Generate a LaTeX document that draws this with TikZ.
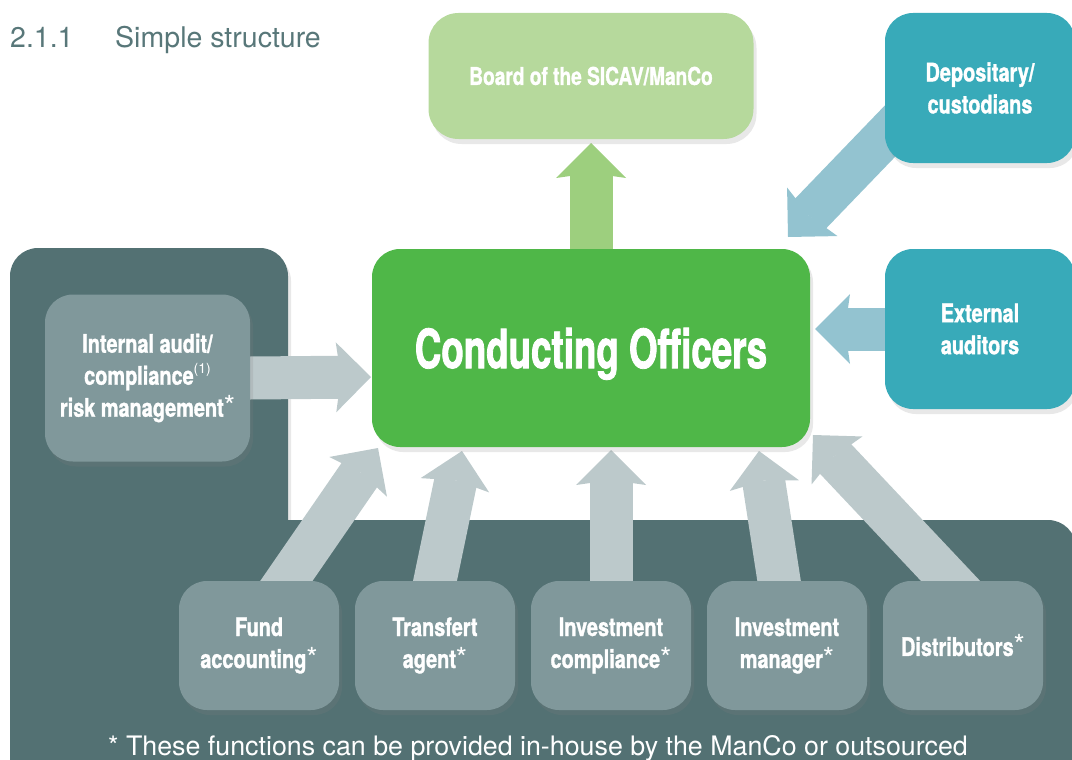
\documentclass[tikz,border=0pt]{standalone}
\usepackage{fontspec}
\setmainfont{TeX Gyre Heros}
\newfontfamily\condfont{TeX Gyre Heros}[FakeStretch=0.78,FakeBold=1.2]
\newfontfamily\tightfont{TeX Gyre Heros}[FakeStretch=0.68,FakeBold=1.5]
\usetikzlibrary{arrows.meta,shadows}
\definecolor{panelgray}{HTML}{537173}
\definecolor{unitgray}{HTML}{80989B}
\definecolor{arrowgray}{HTML}{BCC9CB}
\definecolor{coregreen}{HTML}{4FB748}
\definecolor{boardgreen}{HTML}{B6D99C}
\definecolor{upgreen}{HTML}{9DCF7E}
\definecolor{outerteal}{HTML}{38AAB9}
\definecolor{arrowblue}{HTML}{93C3D0}
\definecolor{titlegray}{HTML}{587779}
\newcommand{\fnstar}{{\rmfamily\mdseries\fontsize{29}{32}\selectfont *}}
\newcommand{\supnote}[1]{\raisebox{.45em}{\rmfamily\mdseries\fontsize{14}{14}\selectfont #1}}
\pgfdeclarelayer{panellayer}
\pgfdeclarelayer{arrowlayer}
\pgfsetlayers{panellayer,arrowlayer,main}
\tikzset{
  softshadow/.style={drop shadow={opacity=.18,shadow xshift=3pt,shadow yshift=-5pt}},
  boxtext/.style={text=white,align=center,inner sep=0pt,
    font=\condfont\bfseries\fontsize{25.5}{32}\selectfont},
  unitbox/.style={boxtext,fill=unitgray,rounded corners=28pt,softshadow,
    minimum width=160pt,minimum height=129pt},
  outerbox/.style={boxtext,fill=outerteal,rounded corners=28pt,softshadow,
    minimum width=190pt},
  boardbox/.style={boxtext,fill=boardgreen,rounded corners=30pt,softshadow,
    minimum width=325pt,minimum height=126pt,font=\condfont\bfseries\fontsize{24.5}{32}\selectfont},
  corebox/.style={boxtext,fill=coregreen,rounded corners=28pt,softshadow,
    minimum width=438pt,minimum height=198pt,text depth=0pt,
    font=\tightfont\bfseries\fontsize{54}{60}\selectfont},
  bigarrow/.style={line width=43pt,shorten <=-30pt,
    -{Stealth[length=35pt,width=70pt,inset=5pt,line width=0pt]}},
  greyarrow/.style={bigarrow,draw=arrowgray},
  bluearrow/.style={bigarrow,draw=arrowblue},
  greenarrow/.style={bigarrow,draw=upgreen}
}
\begin{document}
\begin{tikzpicture}[x=1pt,y=-1pt]
\useasboundingbox (0,0) rectangle (1072,760);
\clip (0,0) rectangle (1072,760);
% title
\node[anchor=base west,inner sep=0pt,text=titlegray,font=\fontsize{28.5}{30}\selectfont] (num) at (10,48) {2.1.1};
\node[anchor=base west,inner sep=0pt,text=titlegray,font=\fontsize{28.5}{30}\selectfont] (title) at (115,48) {Simple structure};
% boxes
\node[boardbox] (board) at (591,76) {Board of the SICAV/ManCo};
\node[outerbox,minimum height=150pt] (dep) at (980,88) {Depositary/\\custodians};
\node[outerbox,minimum height=160pt] (aud) at (980,329) {External\\auditors};
\node[corebox] (co) at (591,348) {Conducting Officers};
\node[unitbox,minimum width=205pt,minimum height=167pt] (ia) at (147.5,378) {Internal audit/\\compliance\supnote{(1)}\\risk management\fnstar};
\node[unitbox] (fund) at (259,645.5) {Fund\\accounting\fnstar};
\node[unitbox] (ta) at (435,645.5) {Transfert\\agent\fnstar};
\node[unitbox] (icomp) at (611,645.5) {Investment\\compliance\fnstar};
\node[unitbox] (iman) at (787,645.5) {Investment\\manager\fnstar};
\node[unitbox] (dist) at (963,645.5) {Distributors\fnstar};
\node[anchor=base,inner sep=0pt,text=white,font=\fontsize{26.8}{28}\selectfont] (note) at (538,755) {* These functions can be provided in-house by the ManCo or outsourced};
% tips
\coordinate (tipboard) at (591,143);
\coordinate (tipdep) at (788,237);
\coordinate (tipaud) at (815,329);
\coordinate (tipia) at (371,377);
\coordinate (tipfund) at (378,448);
\coordinate (tipta) at (462,451);
\coordinate (tipicomp) at (611,450);
\coordinate (tipiman) at (759,451);
\coordinate (tipdist) at (813,435);
\begin{pgfonlayer}{panellayer}
\fill[panelgray,rounded corners=28pt,softshadow] (10,248) rectangle (288,800) (10,520) rectangle (1076,800);
\end{pgfonlayer}
\begin{pgfonlayer}{arrowlayer}
\draw[greenarrow] (co.north) -- (tipboard);
\draw[bluearrow] (dep.207) -- (tipdep);
\draw[bluearrow] (aud.west) -- (tipaud);
\draw[greyarrow] (ia.east) -- (tipia);
\draw[greyarrow] (fund.67) -- (tipfund);
\draw[greyarrow] (ta.north) -- (tipta);
\draw[greyarrow] (icomp.north) -- (tipicomp);
\draw[greyarrow] (iman.97) -- (tipiman);
\draw[greyarrow] (dist.101) -- (tipdist);
\end{pgfonlayer}
\end{tikzpicture}
\end{document}
